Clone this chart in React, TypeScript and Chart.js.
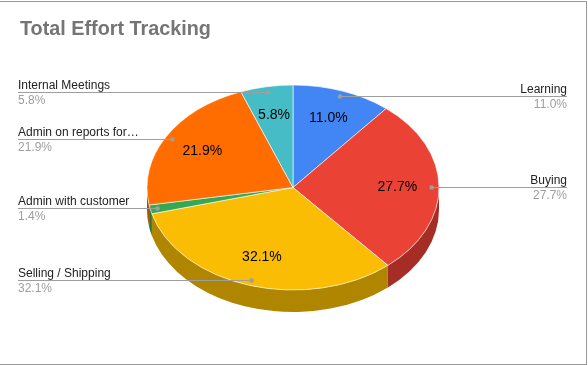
import { useEffect, useRef } from 'react';
import { Chart, registerables } from 'chart.js';

Chart.register(...registerables);

const TITLE = 'Total Effort Tracking';
const categories = [
  'Learning',
  'Buying',
  'Selling / Shipping',
  'Admin with customer',
  'Admin on reports for…',
  'Internal Meetings',
];
const values = [11.0, 27.7, 32.1, 1.4, 21.9, 5.8];
const topColors = ['#4285F4', '#EA4335', '#FBBC04', '#34A853', '#FF6D01', '#46BDC6'];
const sideColors = ['#2E5DAB', '#A52D25', '#B08600', '#24763A', '#B34C01', '#318489'];

const FONT = '"Liberation Sans", Arial, Helvetica, sans-serif';
const TILT = 0.702;
const DEPTH = 22;
const CENTER_Y = 187.5;
const LEFT_X = 18;
const RIGHT_X = 567;

export default function App() {
  const ref = useRef<HTMLCanvasElement>(null);

  useEffect(() => {
    const canvas = ref.current;
    if (!canvas) return;
    const total = values.reduce((a, b) => a + b, 0);
    const pct = (v: number) => ((v / total) * 100).toFixed(1) + '%';

    const plugin = {
      id: 'pie3d',
      beforeDraw(chart: any) {
        const ctx = chart.ctx;
        ctx.save();
        ctx.fillStyle = '#ffffff';
        ctx.fillRect(0, 0, chart.width, chart.height);
        ctx.restore();
      },
      beforeDatasetsDraw(chart: any) {
        const ctx = chart.ctx;
        const meta = chart.getDatasetMeta(0);
        meta.data.forEach((arc: any, i: number) => {
          const p = arc.getProps(['x', 'startAngle', 'endAngle', 'outerRadius'], true);
          const a0 = Math.max(p.startAngle, 0);
          const a1 = Math.min(p.endAngle, Math.PI);
          if (a1 <= a0) return;
          const ry = p.outerRadius * TILT;
          ctx.beginPath();
          ctx.ellipse(p.x, CENTER_Y, p.outerRadius, ry, 0, a0, a1);
          ctx.ellipse(p.x, CENTER_Y + DEPTH, p.outerRadius, ry, 0, a1, a0, true);
          ctx.closePath();
          ctx.fillStyle = sideColors[i];
          ctx.fill();
        });
        const a = meta.data[0];
        ctx.save();
        ctx.translate(a.x, CENTER_Y);
        ctx.scale(1, TILT);
        ctx.translate(-a.x, -a.y);
      },
      afterDatasetsDraw(chart: any) {
        const ctx = chart.ctx;
        ctx.restore();
        const meta = chart.getDatasetMeta(0);
        meta.data.forEach((arc: any, i: number) => {
          const p = arc.getProps(['x', 'startAngle', 'endAngle', 'outerRadius'], true);
          const m = (p.startAngle + p.endAngle) / 2;
          const c = Math.cos(m);
          const s = Math.sin(m);
          const r = p.outerRadius;
          const dx = p.x + c * r * 0.95;
          const dy = CENTER_Y + s * r * TILT * 0.95;
          const right = c >= 0;
          const ly = Math.round(dy) + 0.5;

          ctx.save();
          ctx.strokeStyle = '#9e9e9e';
          ctx.lineWidth = 1;
          ctx.beginPath();
          ctx.moveTo(right ? RIGHT_X : LEFT_X, ly);
          ctx.lineTo(dx, ly);
          ctx.stroke();
          ctx.fillStyle = '#9e9e9e';
          ctx.beginPath();
          ctx.arc(dx, ly, 2.3, 0, Math.PI * 2);
          ctx.fill();

          ctx.textAlign = right ? 'right' : 'left';
          ctx.textBaseline = 'alphabetic';
          ctx.font = `12px ${FONT}`;
          ctx.fillStyle = '#222222';
          const tx = right ? RIGHT_X : LEFT_X;
          ctx.fillText(categories[i], tx, ly - 4);
          ctx.fillStyle = '#9e9e9e';
          ctx.fillText(pct(values[i]), tx, ly + 11.5);

          const share = values[i] / total;
          if (share >= 0.03) {
            const sx = p.x + c * r * 0.715;
            const sy = CENTER_Y + s * r * TILT * 0.715;
            ctx.textAlign = 'center';
            ctx.textBaseline = 'middle';
            ctx.font = `14px ${FONT}`;
            ctx.fillStyle = '#000000';
            ctx.fillText(pct(values[i]), sx, sy);
          }
          ctx.restore();
        });
      },
      afterDraw(chart: any) {
        const ctx = chart.ctx;
        ctx.save();
        ctx.font = `bold 19.8px ${FONT}`;
        ctx.fillStyle = '#757575';
        ctx.textAlign = 'left';
        ctx.textBaseline = 'alphabetic';
        ctx.fillText(TITLE, 20, 35);
        ctx.fillStyle = '#9a9a9a';
        ctx.fillRect(0, 1, 587, 1);
        ctx.fillRect(586, 1, 1, 364);
        ctx.fillRect(0, 364, 587, 1);
        ctx.restore();
      },
    };

    const chart = new Chart(canvas, {
      type: 'pie',
      data: {
        labels: categories,
        datasets: [
          {
            data: values,
            backgroundColor: topColors,
            borderColor: 'rgba(255,255,255,0.7)',
            borderWidth: 1,
            radius: 146,
            clip: false,
          } as any,
        ],
      },
      options: {
        responsive: false,
        animation: false,
        events: [],
        layout: { padding: { left: 0, right: 2, top: 0, bottom: 0 } },
        plugins: {
          legend: { display: false },
          tooltip: { enabled: false },
          title: { display: false },
        },
      },
      plugins: [plugin],
    });
    return () => chart.destroy();
  }, []);

  return (
    <div style={{ position: 'absolute', left: 0, top: 0, width: 588, height: 365 }}>
      <canvas ref={ref} width={588} height={365} style={{ display: 'block' }} />
    </div>
  );
}
